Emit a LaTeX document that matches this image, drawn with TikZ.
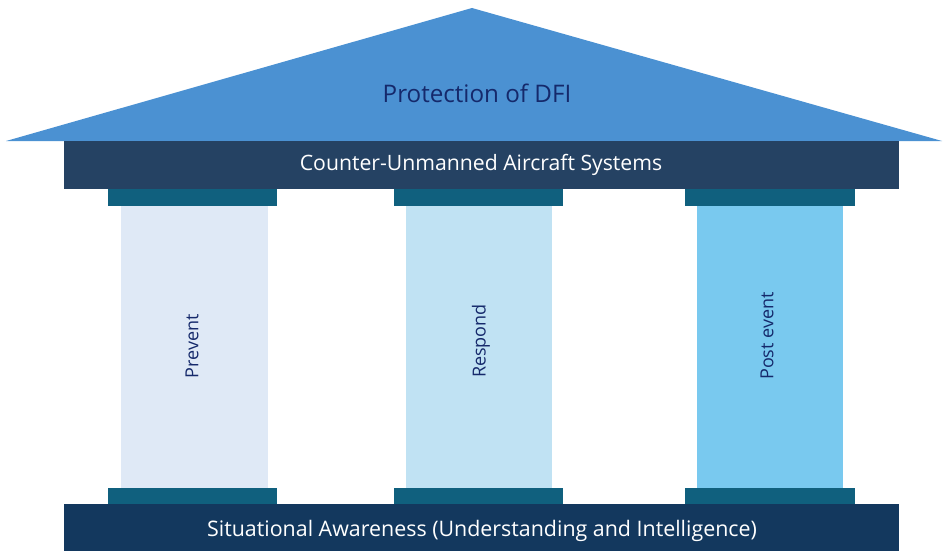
\documentclass[tikz,border=0pt]{standalone}
\usepackage{fontspec}
\setmainfont{Open Sans}
\definecolor{roofblue}{HTML}{4B91D2}
\definecolor{entab}{HTML}{254263}
\definecolor{capit}{HTML}{10607E}
\definecolor{basebar}{HTML}{13385E}
\definecolor{colA}{HTML}{DFE9F6}
\definecolor{colB}{HTML}{C0E2F3}
\definecolor{colC}{HTML}{79C9EF}
\definecolor{navytext}{HTML}{15296B}
\tikzset{
  capbox/.style={fill=capit, draw=none},
  colbox/.style={draw=none},
  coltext/.style={rotate=90, text=navytext, font=\fontsize{18}{21}\selectfont, inner sep=0pt},
}
\begin{document}
\begin{tikzpicture}[x=1pt,y=-1pt]
\useasboundingbox (0,0) rectangle (943,551);
% roof
\fill[roofblue] (6,141) -- (472,8) -- (942,141) -- cycle;
\node[text=navytext, font=\fontsize{24.2}{29}\selectfont, inner sep=0pt] (roof) at (477,93) {Protection of DFI};
% entablature
\fill[entab] (64,141) rectangle (899,189);
\node[text=white, font=\fontsize{21.2}{25}\selectfont, inner sep=0pt] (entabtext) at (481,165) {Counter-Unmanned Aircraft Systems};
% columns
\fill[colA] (121,206) rectangle (268,488);
\fill[colB] (406,206) rectangle (552,488);
\fill[colC] (697,206) rectangle (843,488);
% capitals
\fill[capbox] (108,189) rectangle (277,206);
\fill[capbox] (394,189) rectangle (563,206);
\fill[capbox] (685,189) rectangle (855,206);
% bases
\fill[capbox] (108,488) rectangle (277,504);
\fill[capbox] (394,488) rectangle (563,504);
\fill[capbox] (685,488) rectangle (855,504);
% column labels
\node[coltext] (prevent) at (192,346) {Prevent};
\node[coltext] (respond) at (481,341) {Respond};
\node[coltext] (postevent) at (767,336) {Post event};
% base bar
\fill[basebar] (64,504) rectangle (899,551);
\node[text=white, font=\fontsize{21.4}{25}\selectfont, inner sep=0pt] (basetext) at (482,531) {Situational Awareness (Understanding and Intelligence)};
\end{tikzpicture}
\end{document}
